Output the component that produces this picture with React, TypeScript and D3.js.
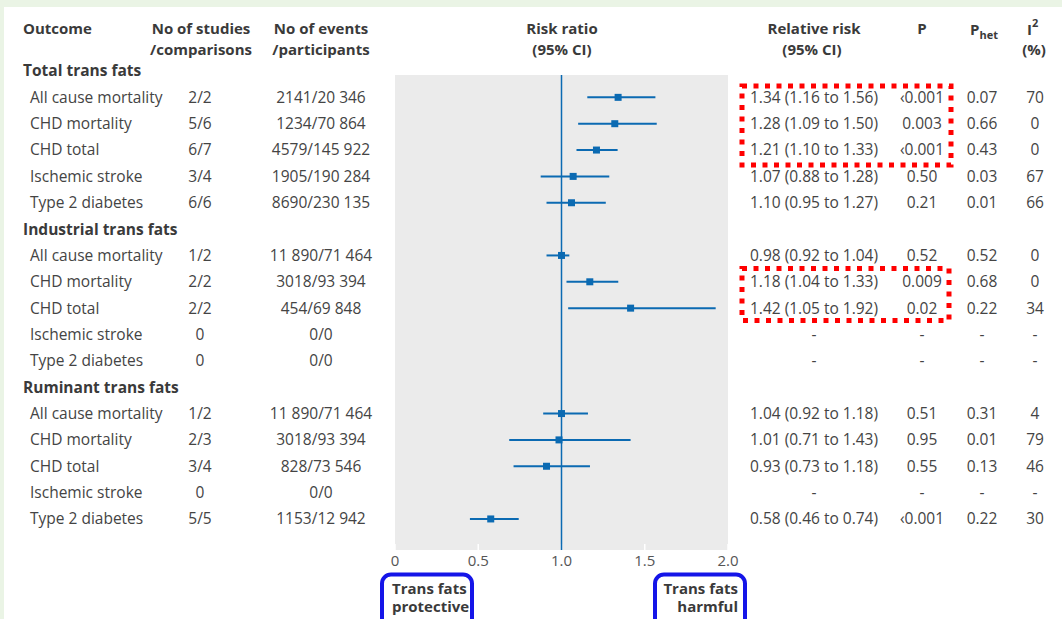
import React from "react";
import * as d3 from "d3";

const groups = ["Total trans fats", "Industrial trans fats", "Ruminant trans fats"];
const outcomes = ["All cause mortality", "CHD mortality", "CHD total", "Ischemic stroke", "Type 2 diabetes"];

const studies = ["2/2", "5/6", "6/7", "3/4", "6/6", "1/2", "2/2", "2/2", "0", "0", "1/2", "2/3", "3/4", "0", "5/5"];
const events = ["2141/20 346", "1234/70 864", "4579/145 922", "1905/190 284", "8690/230 135",
  "11 890/71 464", "3018/93 394", "454/69 848", "0/0", "0/0",
  "11 890/71 464", "3018/93 394", "828/73 546", "0/0", "1153/12 942"];

// plotted estimates
const ptEst: (number | null)[] = [1.34, 1.32, 1.21, 1.07, 1.06, 1.0, 1.17, 1.415, null, null, 1.0, 0.985, 0.91, null, 0.575];
const ptLo: (number | null)[] = [1.155, 1.10, 1.09, 0.875, 0.91, 0.91, 1.03, 1.04, null, null, 0.89, 0.686, 0.712, null, 0.45];
const ptHi: (number | null)[] = [1.564, 1.572, 1.337, 1.287, 1.266, 1.047, 1.341, 1.926, null, null, 1.159, 1.415, 1.171, null, 0.743];

const rrText = ["1.34 (1.16 to 1.56)", "1.28 (1.09 to 1.50)", "1.21 (1.10 to 1.33)", "1.07 (0.88 to 1.28)", "1.10 (0.95 to 1.27)",
  "0.98 (0.92 to 1.04)", "1.18 (1.04 to 1.33)", "1.42 (1.05 to 1.92)", "-", "-",
  "1.04 (0.92 to 1.18)", "1.01 (0.71 to 1.43)", "0.93 (0.73 to 1.18)", "-", "0.58 (0.46 to 0.74)"];
const pText = ["‹0.001", "0.003", "‹0.001", "0.50", "0.21", "0.52", "0.009", "0.02", "-", "-", "0.51", "0.95", "0.55", "-", "‹0.001"];
const phetText = ["0.07", "0.66", "0.43", "0.03", "0.01", "0.52", "0.68", "0.22", "-", "-", "0.31", "0.01", "0.13", "-", "0.22"];
const i2Text = ["70", "0", "0", "67", "66", "0", "0", "34", "-", "-", "4", "79", "46", "-", "30"];

const xTicks = [0, 0.5, 1.0, 1.5, 2.0];
const xTickLabels = ["0", "0.5", "1.0", "1.5", "2.0"];

const FONT = "'Open Sans', 'Noto Sans', sans-serif";
const TXT = "#444444";
const HEAD = "#3a3a3a";
const BLUE = "#0b6ab2";

export default function App() {
  const W = 1062, H = 619;
  const x = d3.scaleLinear().domain([0, 2]).range([395, 728]);
  const rowY = (i: number) => 71 + i * 26.35;
  const panelTop = 75, panelBot = 550;

  const rows: { y: number; k: number; g: number }[] = [];
  groups.forEach((g, gi) => {
    outcomes.forEach((o, oi) => {
      rows.push({ y: rowY(gi * 6 + 1 + oi), k: gi * 5 + oi, g: gi });
    });
  });

  const fs = 15.5;
  const hfs = 15;
  const h1 = 29.2, h2 = 49.8;
  const sq = 7;

  return (
    <div style={{ position: "absolute", left: 0, top: 0 }}>
      <svg width={W} height={H} style={{ display: "block", fontFamily: FONT }}>
        <rect x={0} y={0} width={W} height={H} fill="#ffffff" />
        <rect x={0} y={0} width={W} height={7} fill="#eaf4e5" />
        <rect x={0} y={0} width={4} height={H} fill="#eaf4e5" />

        {/* plot panel */}
        <rect x={x(0)} y={panelTop} width={x(2) - x(0)} height={panelBot - panelTop} fill="#ebebeb" />
        {xTicks.map((t, i) => (
          <line key={"tk" + i} x1={x(t)} x2={x(t)} y1={panelBot - 6} y2={panelBot} stroke="#ffffff" strokeWidth={1.5} />
        ))}
        <line x1={x(1)} x2={x(1)} y1={panelTop} y2={panelBot} stroke={BLUE} strokeWidth={1.5} />
        {xTicks.map((t, i) => (
          <text key={"tl" + i} x={x(t)} y={561} dy="0.35em" textAnchor="middle" fontSize={15} fill="#555555">{xTickLabels[i]}</text>
        ))}

        {/* CI lines and markers */}
        {rows.map((r) => {
          const e = ptEst[r.k], lo = ptLo[r.k], hi = ptHi[r.k];
          if (e == null || lo == null || hi == null) return null;
          return (
            <g key={"m" + r.k}>
              <line x1={x(lo)} x2={x(hi)} y1={r.y} y2={r.y} stroke={BLUE} strokeWidth={2} />
              <rect x={x(e) - sq / 2} y={r.y - sq / 2} width={sq} height={sq} fill={BLUE} />
            </g>
          );
        })}

        {/* headers */}
        <g fill={HEAD} fontWeight="bold" fontSize={hfs}>
          <text x={23} y={h1} dy="0.35em">Outcome</text>
          <text x={201} y={h1} dy="0.35em" textAnchor="middle">No of studies</text>
          <text x={201} y={h2} dy="0.35em" textAnchor="middle">/comparisons</text>
          <text x={321} y={h1} dy="0.35em" textAnchor="middle">No of events</text>
          <text x={321} y={h2} dy="0.35em" textAnchor="middle">/participants</text>
          <text x={562} y={h1} dy="0.35em" textAnchor="middle">Risk ratio</text>
          <text x={562} y={h2} dy="0.35em" textAnchor="middle">(95% CI)</text>
          <text x={814} y={h1} dy="0.35em" textAnchor="middle">Relative risk</text>
          <text x={812} y={h2} dy="0.35em" textAnchor="middle">(95% CI)</text>
          <text x={922} y={h1} dy="0.35em" textAnchor="middle">P</text>
          <text x={970} y={h1 + 5.5}>P<tspan fontSize={11} dy={4}>het</tspan></text>
          <text x={1027} y={h1 + 5.5}>I<tspan fontSize={11} dy={-8}>2</tspan></text>
          <text x={1034} y={h2} dy="0.35em" textAnchor="middle">(%)</text>
          {groups.map((g, gi) => (
            <text key={"g" + gi} x={23} y={rowY(gi * 6)} dy="0.35em" fontSize={fs}>{g}</text>
          ))}
        </g>

        {/* data rows */}
        <g fill={TXT} fontSize={fs}>
          {rows.map((r) => (
            <g key={"r" + r.k}>
              <text x={30} y={r.y} dy="0.35em">{outcomes[r.k % 5]}</text>
              <text x={200} y={r.y} dy="0.35em" textAnchor="middle">{studies[r.k]}</text>
              <text x={321} y={r.y} dy="0.35em" textAnchor="middle">{events[r.k]}</text>
              <text x={814} y={r.y} dy="0.35em" textAnchor="middle">{rrText[r.k]}</text>
              <text x={922} y={r.y} dy="0.35em" textAnchor="middle">{pText[r.k]}</text>
              <text x={982} y={r.y} dy="0.35em" textAnchor="middle">{phetText[r.k]}</text>
              <text x={1035} y={r.y} dy="0.35em" textAnchor="middle">{i2Text[r.k]}</text>
            </g>
          ))}
        </g>

        {/* highlight boxes */}
        <rect x={742} y={86} width={209} height={79} fill="none" stroke="#ff0000" strokeWidth={5} strokeDasharray="5 6.5" />
        <rect x={742} y={268.5} width={207} height={52} fill="none" stroke="#ff0000" strokeWidth={5} strokeDasharray="5 6.5" />

        <rect x={382} y={574.5} width={90} height={60} rx={9} fill="none" stroke="#1515e8" strokeWidth={4} />
        <rect x={655} y={574.5} width={90} height={60} rx={9} fill="none" stroke="#1515e8" strokeWidth={4} />
        <g fill={HEAD} fontWeight="bold" fontSize={15}>
          <text x={392} y={589} dy="0.35em">Trans fats</text>
          <text x={392} y={607} dy="0.35em">protective</text>
          <text x={738} y={589} dy="0.35em" textAnchor="end">Trans fats</text>
          <text x={738} y={607} dy="0.35em" textAnchor="end">harmful</text>
        </g>
      </svg>
    </div>
  );
}
